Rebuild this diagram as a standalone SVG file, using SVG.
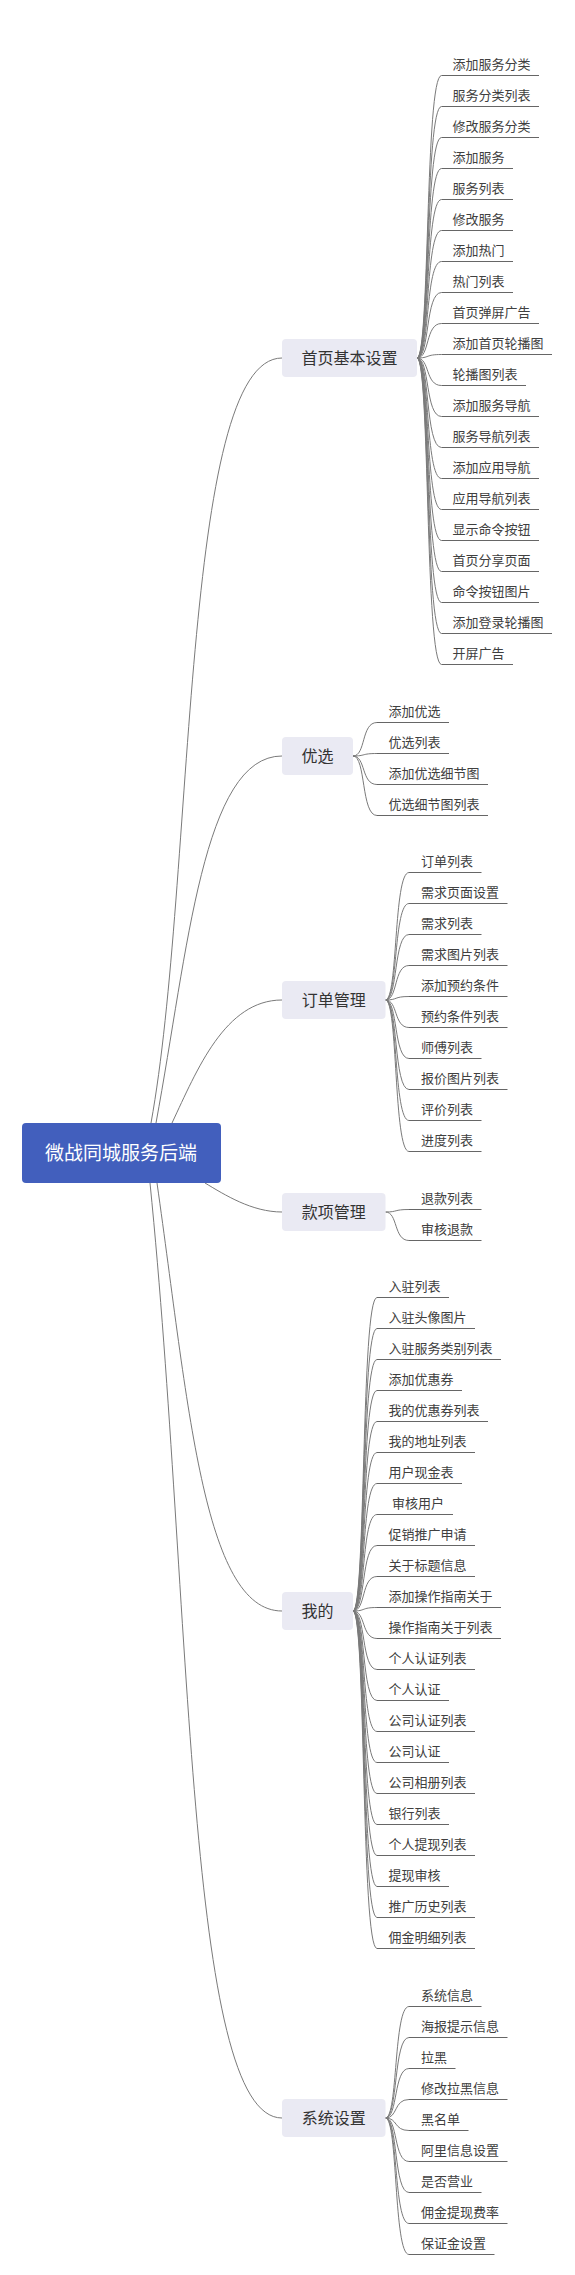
<svg xmlns="http://www.w3.org/2000/svg" width="575" height="2275" viewBox="0 0 575 2275">
<style>
.bg{fill:#ffffff}
.conn path{fill:none;stroke:#7a7a7a;stroke-width:1}
.ul{stroke:#666666;stroke-width:1}
.lt{font-family:"Liberation Sans","Noto Sans CJK SC",sans-serif;font-size:13px;fill:#404040}
.l1 rect{fill:#eaeaf3}
.l1 text{font-family:"Liberation Sans","Noto Sans CJK SC",sans-serif;font-size:16px;fill:#333333;text-anchor:middle}
.root rect{fill:#425fbd}
.root text{font-family:"Liberation Sans","Noto Sans CJK SC",sans-serif;font-size:19px;fill:#ffffff;text-anchor:middle}
</style>
<rect class="bg" x="0" y="0" width="575" height="2275"/>
<g id="connectors" class="conn">
<path d="M151 1123 C195 880 181 358 282 358"/>
<path d="M156 1123 C188 950 203 756 282 756"/>
<path d="M172 1123 C197 1070 225 1000 282 1000"/>
<path d="M205 1183 C225 1195 252 1212 282 1212"/>
<path d="M157 1183 C188 1400 203 1611 282 1611"/>
<path d="M150 1183 C192 1600 186 2118 282 2118"/>
<!-- 首页基本设置 -->
<path d="M417 358 C430 358 425 75.5 441.5 75.5"/>
<path d="M417 358 C430 358 425 106.5 441.5 106.5"/>
<path d="M417 358 C430 358 425 137.5 441.5 137.5"/>
<path d="M417 358 C430 358 425 168.5 441.5 168.5"/>
<path d="M417 358 C430 358 425 199.5 441.5 199.5"/>
<path d="M417 358 C430 358 425 230.5 441.5 230.5"/>
<path d="M417 358 C430 358 425 261.5 441.5 261.5"/>
<path d="M417 358 C430 358 425 292.5 441.5 292.5"/>
<path d="M417 358 C430 358 425 323.5 441.5 323.5"/>
<path d="M417 358 C430 358 425 354.5 441.5 354.5"/>
<path d="M417 358 C430 358 425 385.5 441.5 385.5"/>
<path d="M417 358 C430 358 425 416.5 441.5 416.5"/>
<path d="M417 358 C430 358 425 447.5 441.5 447.5"/>
<path d="M417 358 C430 358 425 478.5 441.5 478.5"/>
<path d="M417 358 C430 358 425 509.5 441.5 509.5"/>
<path d="M417 358 C430 358 425 540.5 441.5 540.5"/>
<path d="M417 358 C430 358 425 571.5 441.5 571.5"/>
<path d="M417 358 C430 358 425 602.5 441.5 602.5"/>
<path d="M417 358 C430 358 425 633.5 441.5 633.5"/>
<path d="M417 358 C430 358 425 664.5 441.5 664.5"/>
<!-- 优选 -->
<path d="M353 756 C366 756 361 722.5 377 722.5"/>
<path d="M353 756 C366 756 361 753.5 377 753.5"/>
<path d="M353 756 C366 756 361 784.5 377 784.5"/>
<path d="M353 756 C366 756 361 815.5 377 815.5"/>
<!-- 订单管理 -->
<path d="M385.5 1000 C398 1000 393.5 872.5 409 872.5"/>
<path d="M385.5 1000 C398 1000 393.5 903.5 409 903.5"/>
<path d="M385.5 1000 C398 1000 393.5 934.5 409 934.5"/>
<path d="M385.5 1000 C398 1000 393.5 965.5 409 965.5"/>
<path d="M385.5 1000 C398 1000 393.5 996.5 409 996.5"/>
<path d="M385.5 1000 C398 1000 393.5 1027.5 409 1027.5"/>
<path d="M385.5 1000 C398 1000 393.5 1058.5 409 1058.5"/>
<path d="M385.5 1000 C398 1000 393.5 1089.5 409 1089.5"/>
<path d="M385.5 1000 C398 1000 393.5 1120.5 409 1120.5"/>
<path d="M385.5 1000 C398 1000 393.5 1151.5 409 1151.5"/>
<!-- 款项管理 -->
<path d="M385.5 1212 C398 1212 393.5 1209.5 409 1209.5"/>
<path d="M385.5 1212 C398 1212 393.5 1240.5 409 1240.5"/>
<!-- 我的 -->
<path d="M353 1611 C366 1611 361 1297.5 377 1297.5"/>
<path d="M353 1611 C366 1611 361 1328.5 377 1328.5"/>
<path d="M353 1611 C366 1611 361 1359.5 377 1359.5"/>
<path d="M353 1611 C366 1611 361 1390.5 377 1390.5"/>
<path d="M353 1611 C366 1611 361 1421.5 377 1421.5"/>
<path d="M353 1611 C366 1611 361 1452.5 377 1452.5"/>
<path d="M353 1611 C366 1611 361 1483.5 377 1483.5"/>
<path d="M353 1611 C366 1611 361 1514.5 377 1514.5"/>
<path d="M353 1611 C366 1611 361 1545.5 377 1545.5"/>
<path d="M353 1611 C366 1611 361 1576.5 377 1576.5"/>
<path d="M353 1611 C366 1611 361 1607.5 377 1607.5"/>
<path d="M353 1611 C366 1611 361 1638.5 377 1638.5"/>
<path d="M353 1611 C366 1611 361 1669.5 377 1669.5"/>
<path d="M353 1611 C366 1611 361 1700.5 377 1700.5"/>
<path d="M353 1611 C366 1611 361 1731.5 377 1731.5"/>
<path d="M353 1611 C366 1611 361 1762.5 377 1762.5"/>
<path d="M353 1611 C366 1611 361 1793.5 377 1793.5"/>
<path d="M353 1611 C366 1611 361 1824.5 377 1824.5"/>
<path d="M353 1611 C366 1611 361 1855.5 377 1855.5"/>
<path d="M353 1611 C366 1611 361 1886.5 377 1886.5"/>
<path d="M353 1611 C366 1611 361 1917.5 377 1917.5"/>
<path d="M353 1611 C366 1611 361 1948.5 377 1948.5"/>
<!-- 系统设置 -->
<path d="M385.5 2118 C398 2118 393.5 2006.5 409 2006.5"/>
<path d="M385.5 2118 C398 2118 393.5 2037.5 409 2037.5"/>
<path d="M385.5 2118 C398 2118 393.5 2068.5 409 2068.5"/>
<path d="M385.5 2118 C398 2118 393.5 2099.5 409 2099.5"/>
<path d="M385.5 2118 C398 2118 393.5 2130.5 409 2130.5"/>
<path d="M385.5 2118 C398 2118 393.5 2161.5 409 2161.5"/>
<path d="M385.5 2118 C398 2118 393.5 2192.5 409 2192.5"/>
<path d="M385.5 2118 C398 2118 393.5 2223.5 409 2223.5"/>
<path d="M385.5 2118 C398 2118 393.5 2254.5 409 2254.5"/>
</g>

<g id="root" class="root"><rect x="22" y="1123" width="199" height="60" rx="4"/><text x="121" y="1160">微战同城服务后端</text></g>

<g id="n-shouye" class="l1"><rect x="282" y="339" width="135" height="38" rx="4"/><text x="349.5" y="364">首页基本设置</text></g>
<g id="n-youxuan" class="l1"><rect x="282" y="737" width="71" height="38" rx="4"/><text x="317.5" y="762">优选</text></g>
<g id="n-dingdan" class="l1"><rect x="282" y="981" width="103.5" height="38" rx="4"/><text x="333.75" y="1006">订单管理</text></g>
<g id="n-kuanxiang" class="l1"><rect x="282" y="1193" width="103.5" height="38" rx="4"/><text x="333.75" y="1218">款项管理</text></g>
<g id="n-wode" class="l1"><rect x="282" y="1592" width="71" height="38" rx="4"/><text x="317.5" y="1617">我的</text></g>
<g id="n-xitong" class="l1"><rect x="282" y="2099" width="103.5" height="38" rx="4"/><text x="333.75" y="2124">系统设置</text></g>

<!-- 首页基本设置 leaves (text x 452.5, end = x + 13n + 8.5) -->
<g id="a1"><line class="ul" x1="441.5" y1="75.5" x2="539" y2="75.5"/><text class="lt" x="452.5" y="69">添加服务分类</text></g>
<g id="a2"><line class="ul" x1="441.5" y1="106.5" x2="539" y2="106.5"/><text class="lt" x="452.5" y="100">服务分类列表</text></g>
<g id="a3"><line class="ul" x1="441.5" y1="137.5" x2="539" y2="137.5"/><text class="lt" x="452.5" y="131">修改服务分类</text></g>
<g id="a4"><line class="ul" x1="441.5" y1="168.5" x2="513" y2="168.5"/><text class="lt" x="452.5" y="162">添加服务</text></g>
<g id="a5"><line class="ul" x1="441.5" y1="199.5" x2="513" y2="199.5"/><text class="lt" x="452.5" y="193">服务列表</text></g>
<g id="a6"><line class="ul" x1="441.5" y1="230.5" x2="513" y2="230.5"/><text class="lt" x="452.5" y="224">修改服务</text></g>
<g id="a7"><line class="ul" x1="441.5" y1="261.5" x2="513" y2="261.5"/><text class="lt" x="452.5" y="255">添加热门</text></g>
<g id="a8"><line class="ul" x1="441.5" y1="292.5" x2="513" y2="292.5"/><text class="lt" x="452.5" y="286">热门列表</text></g>
<g id="a9"><line class="ul" x1="441.5" y1="323.5" x2="539" y2="323.5"/><text class="lt" x="452.5" y="317">首页弹屏广告</text></g>
<g id="a10"><line class="ul" x1="441.5" y1="354.5" x2="552" y2="354.5"/><text class="lt" x="452.5" y="348">添加首页轮播图</text></g>
<g id="a11"><line class="ul" x1="441.5" y1="385.5" x2="526" y2="385.5"/><text class="lt" x="452.5" y="379">轮播图列表</text></g>
<g id="a12"><line class="ul" x1="441.5" y1="416.5" x2="539" y2="416.5"/><text class="lt" x="452.5" y="410">添加服务导航</text></g>
<g id="a13"><line class="ul" x1="441.5" y1="447.5" x2="539" y2="447.5"/><text class="lt" x="452.5" y="441">服务导航列表</text></g>
<g id="a14"><line class="ul" x1="441.5" y1="478.5" x2="539" y2="478.5"/><text class="lt" x="452.5" y="472">添加应用导航</text></g>
<g id="a15"><line class="ul" x1="441.5" y1="509.5" x2="539" y2="509.5"/><text class="lt" x="452.5" y="503">应用导航列表</text></g>
<g id="a16"><line class="ul" x1="441.5" y1="540.5" x2="539" y2="540.5"/><text class="lt" x="452.5" y="534">显示命令按钮</text></g>
<g id="a17"><line class="ul" x1="441.5" y1="571.5" x2="539" y2="571.5"/><text class="lt" x="452.5" y="565">首页分享页面</text></g>
<g id="a18"><line class="ul" x1="441.5" y1="602.5" x2="539" y2="602.5"/><text class="lt" x="452.5" y="596">命令按钮图片</text></g>
<g id="a19"><line class="ul" x1="441.5" y1="633.5" x2="552" y2="633.5"/><text class="lt" x="452.5" y="627">添加登录轮播图</text></g>
<g id="a20"><line class="ul" x1="441.5" y1="664.5" x2="513" y2="664.5"/><text class="lt" x="452.5" y="658">开屏广告</text></g>

<!-- 优选 leaves (text x 388.5) -->
<g id="b1"><line class="ul" x1="377" y1="722.5" x2="449" y2="722.5"/><text class="lt" x="388.5" y="716">添加优选</text></g>
<g id="b2"><line class="ul" x1="377" y1="753.5" x2="449" y2="753.5"/><text class="lt" x="388.5" y="747">优选列表</text></g>
<g id="b3"><line class="ul" x1="377" y1="784.5" x2="488" y2="784.5"/><text class="lt" x="388.5" y="778">添加优选细节图</text></g>
<g id="b4"><line class="ul" x1="377" y1="815.5" x2="488" y2="815.5"/><text class="lt" x="388.5" y="809">优选细节图列表</text></g>

<!-- 订单管理 leaves (text x 421) -->
<g id="c1"><line class="ul" x1="409" y1="872.5" x2="481.5" y2="872.5"/><text class="lt" x="421" y="866">订单列表</text></g>
<g id="c2"><line class="ul" x1="409" y1="903.5" x2="507.5" y2="903.5"/><text class="lt" x="421" y="897">需求页面设置</text></g>
<g id="c3"><line class="ul" x1="409" y1="934.5" x2="481.5" y2="934.5"/><text class="lt" x="421" y="928">需求列表</text></g>
<g id="c4"><line class="ul" x1="409" y1="965.5" x2="507.5" y2="965.5"/><text class="lt" x="421" y="959">需求图片列表</text></g>
<g id="c5"><line class="ul" x1="409" y1="996.5" x2="507.5" y2="996.5"/><text class="lt" x="421" y="990">添加预约条件</text></g>
<g id="c6"><line class="ul" x1="409" y1="1027.5" x2="507.5" y2="1027.5"/><text class="lt" x="421" y="1021">预约条件列表</text></g>
<g id="c7"><line class="ul" x1="409" y1="1058.5" x2="481.5" y2="1058.5"/><text class="lt" x="421" y="1052">师傅列表</text></g>
<g id="c8"><line class="ul" x1="409" y1="1089.5" x2="507.5" y2="1089.5"/><text class="lt" x="421" y="1083">报价图片列表</text></g>
<g id="c9"><line class="ul" x1="409" y1="1120.5" x2="481.5" y2="1120.5"/><text class="lt" x="421" y="1114">评价列表</text></g>
<g id="c10"><line class="ul" x1="409" y1="1151.5" x2="481.5" y2="1151.5"/><text class="lt" x="421" y="1145">进度列表</text></g>

<!-- 款项管理 leaves -->
<g id="d1"><line class="ul" x1="409" y1="1209.5" x2="481.5" y2="1209.5"/><text class="lt" x="421" y="1203">退款列表</text></g>
<g id="d2"><line class="ul" x1="409" y1="1240.5" x2="481.5" y2="1240.5"/><text class="lt" x="421" y="1234">审核退款</text></g>

<!-- 我的 leaves (text x 388.5) -->
<g id="e1"><line class="ul" x1="377" y1="1297.5" x2="449" y2="1297.5"/><text class="lt" x="388.5" y="1291">入驻列表</text></g>
<g id="e2"><line class="ul" x1="377" y1="1328.5" x2="475" y2="1328.5"/><text class="lt" x="388.5" y="1322">入驻头像图片</text></g>
<g id="e3"><line class="ul" x1="377" y1="1359.5" x2="501" y2="1359.5"/><text class="lt" x="388.5" y="1353">入驻服务类别列表</text></g>
<g id="e4"><line class="ul" x1="377" y1="1390.5" x2="462" y2="1390.5"/><text class="lt" x="388.5" y="1384">添加优惠券</text></g>
<g id="e5"><line class="ul" x1="377" y1="1421.5" x2="488" y2="1421.5"/><text class="lt" x="388.5" y="1415">我的优惠券列表</text></g>
<g id="e6"><line class="ul" x1="377" y1="1452.5" x2="475" y2="1452.5"/><text class="lt" x="388.5" y="1446">我的地址列表</text></g>
<g id="e7"><line class="ul" x1="377" y1="1483.5" x2="462" y2="1483.5"/><text class="lt" x="388.5" y="1477">用户现金表</text></g>
<g id="e8"><line class="ul" x1="377" y1="1514.5" x2="453" y2="1514.5"/><text class="lt" x="388.5" y="1508" xml:space="preserve"> 审核用户</text></g>
<g id="e9"><line class="ul" x1="377" y1="1545.5" x2="475" y2="1545.5"/><text class="lt" x="388.5" y="1539">促销推广申请</text></g>
<g id="e10"><line class="ul" x1="377" y1="1576.5" x2="475" y2="1576.5"/><text class="lt" x="388.5" y="1570">关于标题信息</text></g>
<g id="e11"><line class="ul" x1="377" y1="1607.5" x2="501" y2="1607.5"/><text class="lt" x="388.5" y="1601">添加操作指南关于</text></g>
<g id="e12"><line class="ul" x1="377" y1="1638.5" x2="501" y2="1638.5"/><text class="lt" x="388.5" y="1632">操作指南关于列表</text></g>
<g id="e13"><line class="ul" x1="377" y1="1669.5" x2="475" y2="1669.5"/><text class="lt" x="388.5" y="1663">个人认证列表</text></g>
<g id="e14"><line class="ul" x1="377" y1="1700.5" x2="449" y2="1700.5"/><text class="lt" x="388.5" y="1694">个人认证</text></g>
<g id="e15"><line class="ul" x1="377" y1="1731.5" x2="475" y2="1731.5"/><text class="lt" x="388.5" y="1725">公司认证列表</text></g>
<g id="e16"><line class="ul" x1="377" y1="1762.5" x2="449" y2="1762.5"/><text class="lt" x="388.5" y="1756">公司认证</text></g>
<g id="e17"><line class="ul" x1="377" y1="1793.5" x2="475" y2="1793.5"/><text class="lt" x="388.5" y="1787">公司相册列表</text></g>
<g id="e18"><line class="ul" x1="377" y1="1824.5" x2="449" y2="1824.5"/><text class="lt" x="388.5" y="1818">银行列表</text></g>
<g id="e19"><line class="ul" x1="377" y1="1855.5" x2="475" y2="1855.5"/><text class="lt" x="388.5" y="1849">个人提现列表</text></g>
<g id="e20"><line class="ul" x1="377" y1="1886.5" x2="449" y2="1886.5"/><text class="lt" x="388.5" y="1880">提现审核</text></g>
<g id="e21"><line class="ul" x1="377" y1="1917.5" x2="475" y2="1917.5"/><text class="lt" x="388.5" y="1911">推广历史列表</text></g>
<g id="e22"><line class="ul" x1="377" y1="1948.5" x2="475" y2="1948.5"/><text class="lt" x="388.5" y="1942">佣金明细列表</text></g>

<!-- 系统设置 leaves (text x 421) -->
<g id="f1"><line class="ul" x1="409" y1="2006.5" x2="481.5" y2="2006.5"/><text class="lt" x="421" y="2000">系统信息</text></g>
<g id="f2"><line class="ul" x1="409" y1="2037.5" x2="507.5" y2="2037.5"/><text class="lt" x="421" y="2031">海报提示信息</text></g>
<g id="f3"><line class="ul" x1="409" y1="2068.5" x2="455.5" y2="2068.5"/><text class="lt" x="421" y="2062">拉黑</text></g>
<g id="f4"><line class="ul" x1="409" y1="2099.5" x2="507.5" y2="2099.5"/><text class="lt" x="421" y="2093">修改拉黑信息</text></g>
<g id="f5"><line class="ul" x1="409" y1="2130.5" x2="468.5" y2="2130.5"/><text class="lt" x="421" y="2124">黑名单</text></g>
<g id="f6"><line class="ul" x1="409" y1="2161.5" x2="507.5" y2="2161.5"/><text class="lt" x="421" y="2155">阿里信息设置</text></g>
<g id="f7"><line class="ul" x1="409" y1="2192.5" x2="481.5" y2="2192.5"/><text class="lt" x="421" y="2186">是否营业</text></g>
<g id="f8"><line class="ul" x1="409" y1="2223.5" x2="507.5" y2="2223.5"/><text class="lt" x="421" y="2217">佣金提现费率</text></g>
<g id="f9"><line class="ul" x1="409" y1="2254.5" x2="494.5" y2="2254.5"/><text class="lt" x="421" y="2248">保证金设置</text></g>
</svg>
